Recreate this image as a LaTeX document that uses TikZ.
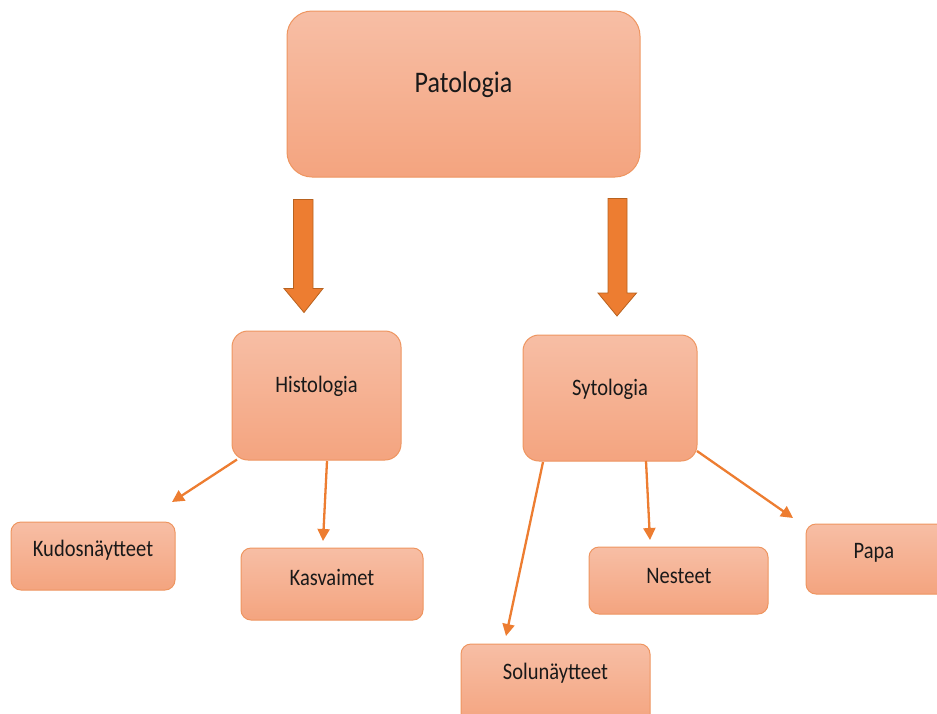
\documentclass[tikz,border=0pt]{standalone}
\usepackage{fontspec}
\setmainfont{Carlito}
\usepackage{graphicx}
\usetikzlibrary{arrows.meta}
\definecolor{boxtop}{HTML}{F7BEA5}
\definecolor{boxbot}{HTML}{F4A47F}
\definecolor{boxline}{HTML}{EE9560}
\definecolor{arr}{HTML}{ED7D31}
\definecolor{bigline}{HTML}{B8621F}
\tikzset{
  box/.style={draw=boxline, line width=1pt, rounded corners=12pt, top color=boxtop, bottom color=boxbot, inner sep=0pt, outer sep=0pt},
  lbl/.style={font=\fontsize{20.5}{24}\selectfont, inner sep=0pt, text=black!90},
  biglbl/.style={font=\fontsize{26}{30}\selectfont, inner sep=0pt, text=black!90},
  conn/.style={draw=arr, line width=2.3pt, -{Triangle[length=12pt,width=12pt]}},
  bigarrow/.style={fill=arr, draw=bigline, line width=0.8pt, line join=miter}
}
\newcommand{\vs}[1]{\scalebox{1}[1.15]{#1}}
\begin{document}
\begin{tikzpicture}[x=1pt,y=-1pt]
\useasboundingbox (0,0) rectangle (937,713);
\clip (0,0) rectangle (937,713);
% boxes
\node[box, rounded corners=25pt, minimum width=353pt, minimum height=166pt] (pat) at (463.5,94) {};
\node[biglbl] (patt) at (463.5,85) {\vs{Patologia}};
\node[box, rounded corners=16pt, minimum width=169pt, minimum height=129pt] (hist) at (316.5,395.5) {};
\node[lbl] (histt) at (316.5,386) {\vs{Histologia}};
\node[box, rounded corners=16pt, minimum width=174pt, minimum height=126pt] (syt) at (610,398) {};
\node[lbl] (sytt) at (610,389) {\vs{Sytologia}};
\node[box, rounded corners=10pt, minimum width=164pt, minimum height=68pt] (kud) at (93,556) {};
\node[lbl] (kudt) at (93,550) {\vs{Kudosnäytteet}};
\node[box, rounded corners=10pt, minimum width=182pt, minimum height=72pt] (kas) at (332,584) {};
\node[lbl] (kast) at (332,577) {\vs{Kasvaimet}};
\node[box, rounded corners=10pt, minimum width=189pt, minimum height=80pt] (sol) at (555.5,684) {};
\node[lbl] (solt) at (555.5,673) {\vs{Solunäytteet}};
\node[box, rounded corners=10pt, minimum width=179pt, minimum height=67pt] (nes) at (678.5,580.5) {};
\node[lbl] (nest) at (679,576) {\vs{Nesteet}};
\node[box, rounded corners=10pt, minimum width=144pt, minimum height=70pt] (pap) at (878,559) {};
\node[lbl] (papt) at (874,553) {\vs{Papa}};
% big block arrows
\draw[bigarrow] (293.5,199.5) -- (313,199.5) -- (313,288.5) -- (323,288.5) -- (304,312.5) -- (284,288.5) -- (293.5,288.5) -- cycle;
\draw[bigarrow] (608,198.5) -- (627,198.5) -- (627,293) -- (636.5,293) -- (617,316) -- (598,293) -- (608,293) -- cycle;
% connector end points
\coordinate (h1) at (237,459.5);
\coordinate (kudE) at (172,502);
\coordinate (h2) at (327,461);
\coordinate (kasE) at (323,541);
\coordinate (s1) at (543,462);
\coordinate (solE) at (506,636);
\coordinate (s2) at (646,461);
\coordinate (nesE) at (650,540);
\coordinate (s3) at (697,451);
\coordinate (papE) at (793,518);
\draw[conn] (h1) -- (kudE);
\draw[conn] (h2) -- (kasE);
\draw[conn] (s1) -- (solE);
\draw[conn] (s2) -- (nesE);
\draw[conn] (s3) -- (papE);
\end{tikzpicture}
\end{document}
